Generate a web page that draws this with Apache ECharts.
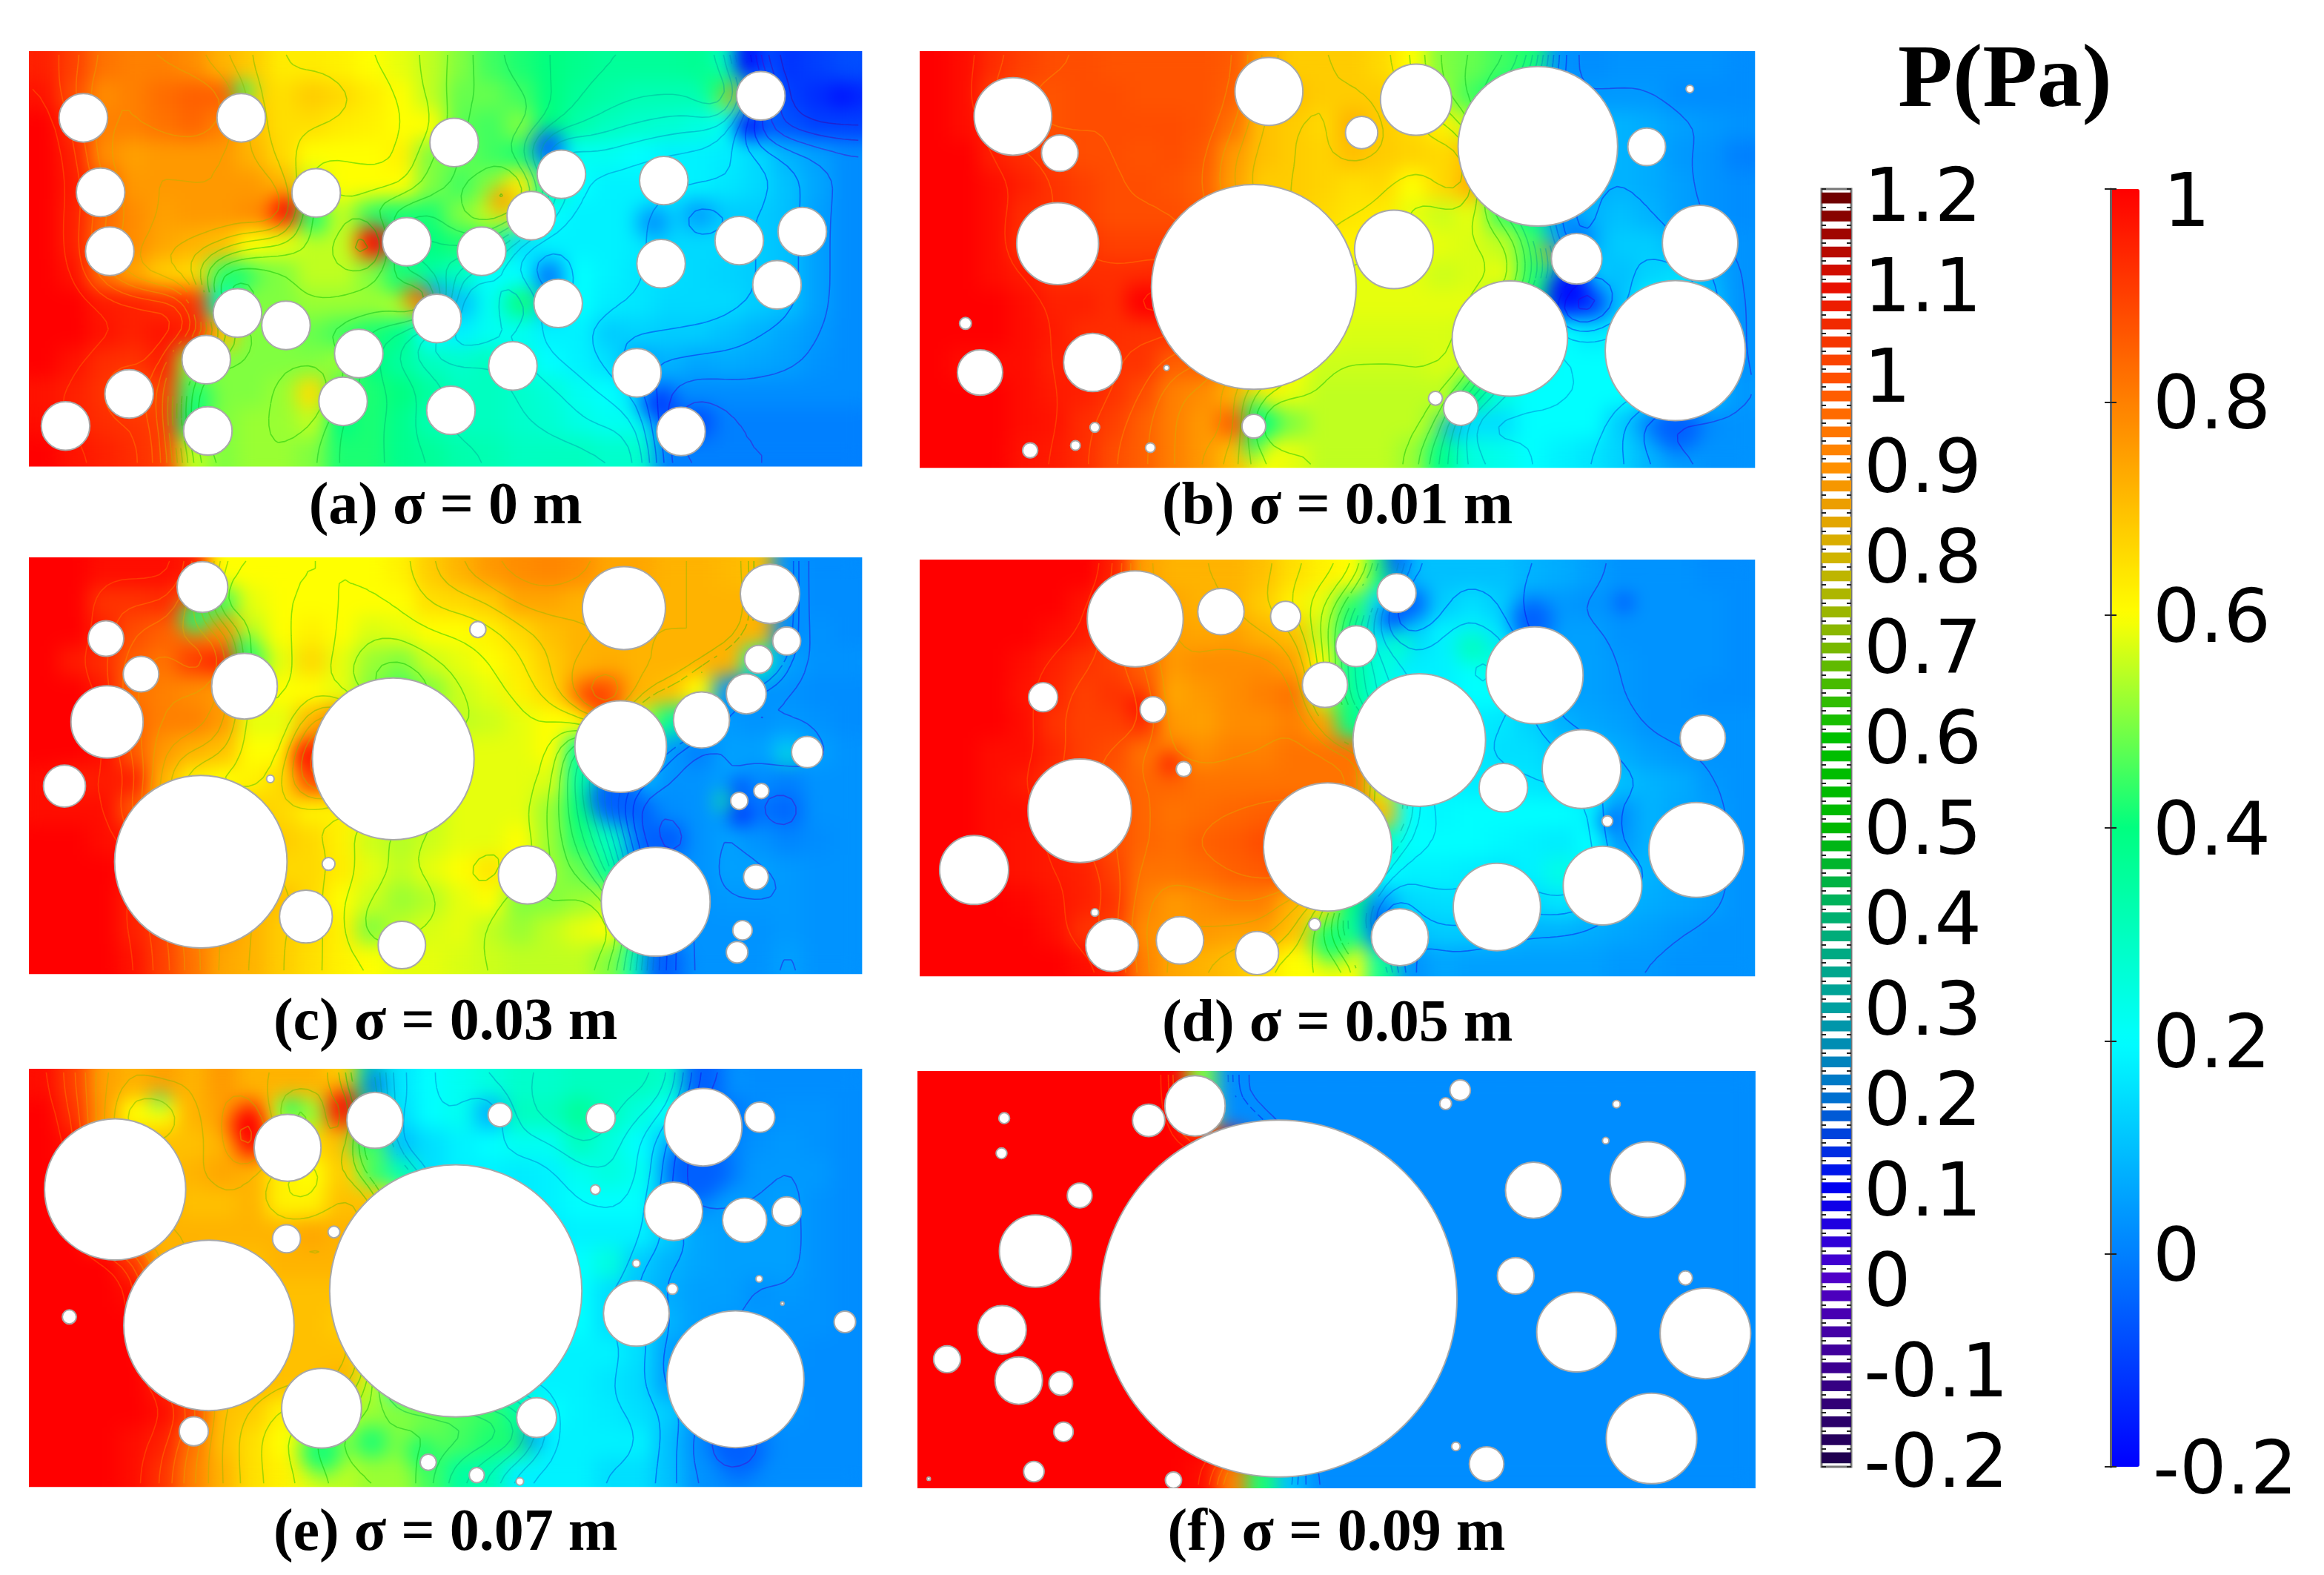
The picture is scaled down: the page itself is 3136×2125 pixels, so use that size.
<!DOCTYPE html>
<html><head><meta charset="utf-8">
<style>html,body{margin:0;background:#fff}#c{width:3136px;height:2125px}</style>
<script src="https://cdn.jsdelivr.net/npm/echarts@6/dist/echarts.min.js"></script>
</head><body>
<svg width="0" height="0" style="position:absolute"><filter id="soft" x="0" y="0" width="100%" height="100%" color-interpolation-filters="sRGB"><feGaussianBlur stdDeviation="13"/><feComponentTransfer><feFuncA type="linear" slope="30"/></feComponentTransfer></filter></svg>
<div id="c"></div>
<script>
// Pressure on a 28 x 14 sampling of each panel (Pa), top row first
const FIELD_A=[
[.95,.9,.82,.8,.8,.78,.72,.68,.63,.63,.62,.6,.58,.55,.5,.45,.42,.4,.38,.36,.36,.36,.37,.3,-.05,-.12,-.1,-.08],
[.97,.88,.78,.8,.83,.85,.85,.68,.65,.68,.66,.63,.6,.55,.48,.48,.45,.4,.36,.34,.32,.32,.32,.5,.1,-.1,-.13,-.13],
[1,.92,.8,.8,.82,.84,.8,.7,.65,.65,.63,.62,.6,.6,.47,.45,.5,.4,.33,.3,.28,.27,.25,.22,-.05,-.07,-.1,-.1],
[1,.95,.78,.75,.76,.76,.76,.72,.66,.6,.6,.6,.62,.5,.48,.45,.42,.1,.22,.22,.2,.18,.18,.17,.14,.08,.05,.02],
[1,.96,.85,.76,.76,.76,.76,.76,.72,.55,.6,.6,.6,.5,.45,.5,.62,.35,.2,.18,.18,.18,.18,.16,.14,.1,.06,.02],
[1,.95,.84,.78,.75,.76,.76,.78,.85,.45,.55,.45,.42,.42,.5,.55,.55,.2,.18,.18,.17,.14,.05,.12,.12,.1,.05,.02],
[1,.95,.82,.78,.74,.72,.7,.6,.58,.55,.55,.85,.35,.4,.42,.42,.15,.18,.18,.18,.17,.14,.14,.14,.12,.1,.05,.02],
[1,.97,.82,.74,.68,.66,.45,.48,.5,.55,.55,.5,.42,.35,.3,.2,.2,.05,.2,.18,.16,.15,.14,.13,.12,.1,.05,.02],
[1,1,.96,.95,.93,.92,.3,.5,.5,.52,.52,.52,.55,.75,.1,.22,.38,.1,.2,.17,.16,.14,.14,.14,.12,.1,.05,.02],
[1,1,.97,.95,.97,.95,.7,.5,.5,.48,.45,.42,.38,.2,.18,.22,.22,.18,.18,.12,.13,.12,.12,.1,.08,.06,.04,.02],
[1,.97,.93,.92,.95,.5,.5,.5,.5,.5,.52,.4,.35,.3,.28,.3,.25,.2,.18,.15,.05,.08,.06,.07,.06,.05,.03,.02],
[.97,.95,.92,.85,.9,.45,.5,.5,.52,.65,.45,.42,.4,.35,.3,.3,.28,.26,.22,.2,.15,.03,.02,.02,.02,.02,.02,.02],
[.98,.95,.93,.92,.9,.4,.5,.52,.52,.55,.4,.42,.38,.32,.3,.3,.28,.27,.24,.22,.22,-.02,-.08,0,0,0,0,0],
[1,.97,.95,.93,.9,.55,.5,.52,.52,.5,.42,.42,.38,.36,.33,.32,.3,.3,.3,.28,.28,0,0,0,0,0,0,0]];
const FIELD_B=[
[1,.98,.93,.9,.88,.88,.87,.87,.87,.87,.86,.75,.68,.68,.68,.66,.6,.5,.48,.45,.42,.03,.02,.03,.03,.03,.03,.02],
[1,.98,.9,.87,.87,.88,.88,.87,.87,.87,.85,.72,.7,.68,.68,.68,.63,.52,.45,.4,.2,.04,.04,.04,.04,.02,.02,.02],
[1,.98,.95,.88,.87,.88,.88,.88,.88,.87,.82,.7,.68,.66,.72,.68,.66,.62,.55,.3,.2,.1,.08,.08,.07,.05,.04,.03],
[1,1,.95,.93,.9,.88,.88,.87,.88,.86,.76,.7,.68,.67,.7,.68,.67,.66,.7,.3,.2,.1,.08,.08,.07,.04,.03,0],
[1,1,.98,.95,.92,.9,.88,.88,.87,.85,.75,.68,.68,.67,.65,.66,.6,.66,.72,.3,.2,.08,.07,.08,.07,.05,.03,.02],
[1,1,.98,.93,.92,.9,.88,.88,.88,.86,.8,.7,.68,.66,.64,.63,.58,.56,.58,.45,.38,.03,.08,.1,.08,.05,.03,.02],
[1,1,.98,.92,.92,.92,.9,.9,.9,.88,.8,.7,.68,.62,.62,.62,.6,.58,.57,.55,.45,.05,.08,.12,.12,.08,.05,.03],
[1,1,.98,.96,.93,.93,.93,.93,.95,.9,.85,.75,.65,.62,.58,.58,.58,.56,.57,.58,.45,.25,.12,.1,.13,.15,.08,.03],
[1,1,1,.98,.95,.95,.93,1,1,.9,.85,.75,.65,.6,.58,.58,.58,.58,.58,.5,.4,-.12,-.1,.1,.2,.18,.1,.03],
[1,1,1,.98,.96,.93,.93,.92,.92,.9,.85,.75,.62,.58,.57,.57,.57,.57,.56,.3,.25,.2,.17,.18,.2,.2,.1,.03],
[1,.98,.98,.98,.95,.96,.92,.92,.85,.85,.78,.7,.6,.56,.56,.56,.56,.57,.56,.25,.22,.2,.2,.2,.2,.2,.1,.03],
[1,1,1,.98,.96,.95,.92,.88,.8,.78,.72,.62,.58,.55,.55,.55,.55,.55,.4,.25,.2,.2,.2,.2,.18,.15,.1,.04],
[1,1,1,.98,.97,.93,.9,.85,.8,.76,.85,.4,.5,.55,.55,.55,.55,.5,.15,.15,.2,.2,.2,.12,.02,0,.02,.03],
[1,1,1,.97,.96,.93,.88,.85,.8,.76,.7,.6,.58,.55,.55,.55,.52,.38,.25,.23,.2,.18,.16,.13,.08,.05,.03,.03]];
const FIELD_C=[
[1,1,.98,.98,.98,.96,.6,.6,.6,.6,.6,.6,.62,.68,.72,.76,.78,.79,.78,.74,.74,.72,.72,.71,.7,.03,.02,.02],
[1,1,.92,.92,.93,.85,.45,.58,.6,.6,.6,.6,.6,.65,.66,.68,.74,.74,.72,.72,.72,.72,.72,.72,.72,.03,.02,.02],
[1,1,.95,.88,.85,.82,.78,.55,.6,.62,.6,.57,.58,.6,.6,.62,.66,.7,.72,.72,.72,.72,.72,.72,.72,.02,.03,.02],
[1,.96,.93,.85,.82,.9,.9,.45,.58,.66,.58,.52,.5,.56,.58,.6,.63,.68,.72,.73,.72,.72,.72,.72,.3,.05,.03,.03],
[1,1,.96,.82,.8,.78,.76,.62,.6,.6,.58,.5,.45,.5,.56,.58,.62,.66,.78,.85,.72,.7,.6,.03,.03,.03,.02,.02],
[1,1,.98,.84,.8,.8,.76,.58,.58,.72,.82,.6,.55,.55,.55,.56,.58,.6,.6,.85,.55,.35,.1,.04,.03,.04,.03,.02],
[1,1,.98,.86,.76,.72,.7,.6,.6,.85,.95,.58,.55,.55,.58,.58,.58,.6,.35,.28,.25,.04,0,.05,.05,.1,.05,.03],
[.98,.95,.96,.95,.72,.62,.6,.62,.66,.88,.85,.6,.55,.55,.58,.58,.58,.57,.35,.2,.1,.03,.03,.05,.02,0,.03,.03],
[.98,.98,.98,.86,.7,.7,.68,.68,.66,.62,.62,.6,.56,.55,.58,.58,.58,.52,.4,.22,-.05,.02,.03,.05,-.02,-.04,.03,.03],
[1,1,.98,.96,.8,.75,.7,.7,.68,.66,.62,.56,.54,.56,.58,.58,.6,.52,.42,.3,.05,-.08,.03,.05,.03,.01,.02,.03],
[1,1,1,.98,.9,.78,.72,.7,.66,.66,.63,.58,.55,.58,.6,.64,.6,.52,.48,.35,.05,.03,.03,.05,.05,.04,.03,.03],
[1,1,1,.95,.88,.78,.74,.72,.7,.66,.6,.56,.52,.54,.58,.6,.5,.5,.52,.54,.08,.04,.03,.04,.04,.04,.03,.03],
[1,1,1,.95,.9,.8,.76,.72,.68,.66,.62,.5,.55,.57,.58,.55,.52,.55,.58,.6,.4,.05,.03,.03,.03,.04,.03,.03],
[1,1,1,.97,.9,.82,.74,.72,.68,.65,.62,.6,.58,.58,.57,.56,.55,.55,.55,.5,.3,.06,.03,.03,.03,.05,.03,.03]];
const FIELD_D=[
[1,1,1,1,1,1,.95,.75,.72,.72,.72,.7,.65,.62,.6,.42,.1,.1,.1,.1,.08,.07,.05,.03,.03,.03,.02,.02],
[1,1,1,1,1,.97,.9,.78,.74,.72,.72,.68,.62,.58,.45,.15,-.05,.12,.15,.12,.05,.04,.03,.03,.03,.03,.03,.02],
[1,1,1,1,.98,.96,.9,.8,.75,.74,.75,.72,.7,.55,.35,.15,.12,.18,.18,.16,.05,.05,.05,.03,.03,.03,.03,.02],
[1,1,1,.98,.95,.92,.9,.85,.76,.78,.78,.78,.75,.6,.35,.25,.17,.18,.2,.25,.1,.05,.05,.04,.03,.03,.03,.02],
[1,1,1,.97,.94,.9,.92,.88,.74,.76,.78,.8,.82,.55,.35,.25,.2,.18,.2,.2,.1,.05,.05,.04,.03,.03,.02,.02],
[1,1,1,.98,.92,.9,.9,.92,.76,.75,.78,.78,.8,.75,.38,.3,.2,.17,.17,.16,.13,.08,.06,.05,.03,.03,.03,.03],
[1,1,.98,.98,.94,.9,.88,.82,.8,.78,.8,.8,.82,.82,.82,.8,.2,.18,.17,.15,.15,.12,.1,.07,.05,.04,.03,.03],
[1,1,.98,.96,.92,.88,.86,.84,.84,.82,.82,.82,.82,.82,.82,.55,.2,.18,.17,.17,.16,.15,.14,.1,.08,.07,.04,.03],
[1,1,.98,.98,.95,.92,.88,.84,.82,.83,.84,.85,.86,.85,.82,.7,.2,.19,.2,.2,.2,.2,.18,.03,.08,.06,.05,.03],
[1,1,.98,.97,.96,.92,.88,.84,.83,.85,.86,.88,.88,.85,.85,.3,.2,.2,.2,.19,.18,.17,.2,.04,.08,.08,.05,.03],
[1,1,.98,.97,.96,.95,.9,.82,.82,.83,.85,.86,.9,.85,.55,.2,.18,.18,.17,.16,.18,.24,.18,.1,.08,.06,.05,.03],
[1,1,1,.99,.97,.95,.92,.8,.76,.78,.8,.8,.72,.65,.4,.06,.14,.15,.15,.14,.14,.16,.12,.08,.07,.06,.05,.03],
[1,1,1,1,.98,.92,.9,.78,.76,.76,.75,.75,.7,.55,.35,-.05,.1,.12,.12,.1,.08,.08,.07,.06,.05,.04,.03,.03],
[1,1,1,1,1,.98,.95,.8,.74,.72,.7,.65,.6,.6,.6,.3,.03,.06,.05,.05,.05,.05,.05,.04,.04,.03,.03,.03]];
const FIELD_E=[
[.98,.9,.75,.72,.75,.72,.76,.72,.72,.72,.68,.35,.16,.2,.22,.25,.28,.28,.3,.3,.3,.28,.05,.03,.02,.02,.02,.02],
[1,.92,.76,.6,.6,.72,.75,.85,.6,.52,.9,.42,.15,.2,.22,.08,.3,.3,.36,.3,.25,.2,0,-.02,.02,.03,.03,.02],
[1,.97,.72,.7,.7,.7,.72,.95,.68,.66,.7,.45,.1,.15,.18,.2,.22,.22,.3,.25,.2,.1,0,0,.03,.04,.03,.02],
[1,.98,.72,.7,.7,.72,.74,.72,.62,.6,.68,.55,.32,.15,.18,.18,.17,.18,.22,.25,.22,.1,-.02,0,.04,.04,.04,.02],
[1,.98,.72,.72,.72,.7,.7,.72,.62,.62,.7,.7,.6,.15,.15,.17,.17,.18,.2,.2,.2,.05,.03,.05,.04,.05,.03,.02],
[1,1,.8,.72,.72,.72,.72,.72,.72,.74,.72,.72,.18,.15,.17,.18,.18,.17,.18,.18,.18,.12,.06,.05,.05,.05,.03,.02],
[1,1,1,.92,.72,.72,.7,.7,.72,.72,.72,.7,.18,.17,.17,.18,.18,.18,.2,.25,.12,.08,.06,.05,.05,.05,.03,.02],
[1,1,1,.98,.72,.72,.7,.7,.7,.7,.7,.68,.18,.17,.17,.17,.17,.18,.2,.15,.1,.07,.05,.05,.03,.04,.03,.02],
[1,1,1,1,.72,.72,.7,.7,.7,.7,.68,.65,.18,.17,.17,.17,.17,.18,.2,.15,.15,.08,.05,.04,.04,.03,.03,.02],
[1,1,1,1,.8,.72,.7,.7,.7,.7,.7,.68,.2,.18,.17,.17,.17,.18,.18,.18,.15,.05,.03,.03,.03,.03,.02,.02],
[1,1,1,1,.95,.8,.72,.72,.7,.7,.72,.55,.22,.18,.18,.18,.18,.18,.18,.16,.14,.05,.03,.03,.03,.02,.02,.02],
[1,1,1,1,.98,.9,.7,.68,.62,.6,.55,.52,.5,.48,.46,.44,.35,.2,.18,.17,.15,.12,.04,.04,.03,.03,.02,.02],
[1,1,1,.98,.95,.82,.7,.65,.6,.55,.52,.42,.5,.48,.45,.42,.42,.18,.18,.18,.18,.1,.02,-.1,0,.02,.02,.02],
[1,1,1,.98,.92,.8,.72,.65,.62,.58,.55,.52,.52,.45,.35,.32,.18,.18,.18,.15,.15,.1,.03,.02,.02,.02,.02,.02]];
const FIELD_F=[
[1,1,1,1,1,1,1,1,1,.5,.02,.02,.02,.02,.02,.02,.02,.02,.02,.02,.02,.02,.02,.02,.02,.02,.02,.02],
[1,1,1,1,1,1,1,1,1,.6,.02,.02,.02,.02,.02,.02,.02,.02,.02,.02,.02,.02,.02,.02,.02,.02,.02,.02],
[1,1,1,1,1,1,1,1,1,1,1,.02,.02,.02,.02,.02,.02,.02,.02,.02,.02,.02,.02,.02,.02,.02,.02,.02],
[1,1,1,1,1,1,1,1,1,1,1,1,.02,.02,.02,.02,.02,.02,.02,.02,.02,.02,.02,.02,.02,.02,.02,.02],
[1,1,1,1,1,1,1,1,1,1,1,1,.02,.02,.02,.02,.02,.02,.02,.02,.02,.02,.02,.02,.02,.02,.02,.02],
[1,1,1,1,1,1,1,1,1,1,1,1,.02,.02,.02,.02,.02,.02,.02,.02,.02,.02,.02,.02,.02,.02,.02,.02],
[1,1,1,1,1,1,1,1,1,1,1,1,.02,.02,.02,.02,.02,.02,.02,.02,.02,.02,.02,.02,.02,.02,.02,.02],
[1,1,1,1,1,1,1,1,1,1,1,1,.02,.02,.02,.02,.02,.02,.02,.02,.02,.02,.02,.02,.02,.02,.02,.02],
[1,1,1,1,1,1,1,1,1,1,1,1,.02,.02,.02,.02,.02,.02,.02,.02,.02,.02,.02,.02,.02,.02,.02,.02],
[1,1,1,1,1,1,1,1,1,1,1,1,.02,.02,.02,.02,.02,.02,.02,.02,.02,.02,.02,.02,.02,.02,.02,.02],
[1,1,1,1,1,1,1,1,1,1,1,1,.02,.02,.02,.02,.02,.02,.02,.02,.02,.02,.02,.02,.02,.02,.02,.02],
[1,1,1,1,1,1,1,1,1,1,1,1,.02,.02,.02,.02,.02,.02,.02,.02,.02,.02,.02,.02,.02,.02,.02,.02],
[1,1,1,1,1,1,1,1,1,1,1,1,.02,.02,.02,.02,.02,.02,.02,.02,.02,.02,.02,.02,.02,.02,.02,.02],
[1,1,1,1,1,1,1,1,1,.98,.8,.42,.1,.02,.02,.02,.02,.02,.02,.02,.02,.02,.02,.02,.02,.02,.02,.02]];

// Solid grains: [x, y, radius] in each panel's field units
const CIRCLES_A=[[113,268,45],[406,268,45],[801,358,45],[145,540,45],[545,542,45],[1000,474,45],[1190,497,45],[1370,188,45],[162,755,45],[713,720,45],[852,755,45],[944,625,45],[1330,716,45],[1447,683,45],[1185,800,45],[1400,877,45],[399,980,45],[489,1025,45],[769,1000,45],[994,945,45],[341,1150,45],[624,1128,45],[910,1173,45],[1140,1198,45],[198,1275,45],[595,1302,45],[795,1335,45],[80,1392,45],[344,1410,45],[1222,1412,45]];
const CIRCLES_B=[[188,263,72],[275,397,34],[663,172,63],[936,202,66],[835,322,30],[1162,372,148],[1364,374,35],[1444,163,7],[271,727,76],[635,885,190],[895,748,73],[1234,782,47],[1463,725,70],[1110,1073,107],[1417,1117,130],[100,1018,11],[127,1197,42],[336,1160,54],[473,1180,5],[972,1291,13],[1019,1327,32],[635,1393,22],[340,1397,9],[220,1481,14],[304,1463,9],[443,1471,9]];
const CIRCLES_C=[[334,128,47],[155,316,33],[220,446,33],[157,620,67],[412,490,61],[78,854,39],[331,1130,160],[688,755,150],[845,283,15],[1116,205,77],[1387,153,55],[1418,325,26],[1366,392,26],[1343,518,37],[1260,613,52],[1110,710,85],[1456,730,29],[1371,872,14],[1330,908,16],[460,828,7],[568,1138,12],[937,1178,54],[1175,1276,101],[526,1330,49],[704,1434,44],[1361,1186,23],[1336,1380,18],[1326,1460,20]];
const CIRCLES_D=[[415,244,89],[574,218,43],[694,235,28],[900,150,36],[825,344,38],[767,485,42],[244,530,27],[448,575,24],[505,792,14],[942,686,123],[1156,450,90],[1468,678,42],[1098,860,45],[1243,792,73],[312,944,96],[772,1076,119],[1291,982,10],[1456,1087,88],[116,1160,64],[1282,1217,73],[1086,1295,81],[340,1315,7],[372,1434,49],[498,1417,44],[641,1463,40],[748,1358,11],[906,1405,53]];
const CIRCLES_E=[[172,460,131],[492,308,62],[654,208,52],[886,188,22],[1073,200,27],[1263,233,72],[1368,197,28],[1208,540,54],[1340,572,41],[1418,540,27],[1063,461,9],[346,956,158],[804,830,234],[490,640,26],[578,615,11],[87,925,13],[555,1258,74],[318,1342,27],[954,1292,37],[1139,912,61],[1206,823,10],[1139,730,7],[1367,786,6],[1323,1152,127],[1526,943,20],[753,1455,15],[843,1502,14],[923,1525,7],[1410,876,3]];
const CIRCLES_F=[[525,155,56],[439,208,30],[680,858,331],[171,200,10],[166,328,10],[311,482,23],[229,685,67],[167,972,45],[65,1079,25],[198,1157,44],[276,1167,22],[281,1344,18],[226,1489,19],[485,1520,15],[31,1515,3],[1017,98,19],[990,147,11],[1307,149,7],[1287,282,6],[1365,424,70],[1153,463,52],[1120,775,34],[1435,783,13],[1233,980,74],[1472,985,84],[1372,1368,84],[1066,1461,32],[1009,1397,8]];

// Local pressure extremes beside the grains: [x, y, pressure, radius]
const SPOTS_A=[[655,720,1,30],[490,600,1,25],[1315,178,.85,16],[1290,150,.42,24],[1345,70,-.2,26],[1345,300,-.2,24],[1520,190,-.18,22],[680,620,.42,30],[700,860,.42,30],[400,850,.42,28],[410,170,.42,20],[545,650,.42,22],[940,930,.42,20],[330,1290,.42,25],[975,370,-.05,30],[975,850,-.02,25],[1180,1310,-.1,35],[1170,650,.03,30],[770,900,.05,20],[730,920,.85,22],[890,570,.75,25]];
const SPOTS_B=[[425,930,1,30],[1220,890,-.18,40],[635,1330,.42,22],[635,1460,.42,22],[1185,770,.8,16],[1160,820,.42,22],[1240,700,-.05,20],[1420,1400,-.05,45],[1000,1400,.05,20]];
const SPOTS_C=[[320,240,.42,28],[410,350,.42,22],[360,400,.95,22],[525,745,.98,28],[1060,530,.9,30],[1100,900,-.05,50],[1170,1060,-.05,40],[1300,910,.42,14],[1330,960,-.18,18],[1330,860,-.18,14],[1190,1490,-.05,40],[1420,750,.35,12],[1190,610,.42,14]];
const SPOTS_D=[[900,60,-.05,22],[890,240,-.12,22],[810,230,.42,25],[1150,250,-.05,40],[800,570,.42,20],[420,560,1,18],[480,770,1,18],[1040,350,.3,30],[905,340,.28,25],[1322,185,-.18,12],[780,1420,.42,40],[860,1320,-.05,20],[880,1510,.42,18],[1290,985,-.15,14]];
const SPOTS_E=[[255,135,.32,14],[420,230,1,35],[595,150,.98,30],[495,165,.42,22],[650,85,-.05,25],[625,90,.42,15],[625,300,.4,18],[650,400,.42,22],[1250,390,-.05,60],[1262,70,-.05,40],[1330,1420,-.05,45],[555,1420,.42,40],[740,1420,.42,30],[945,1370,.02,20]];
const SPOTS_F=[];

const CAPTIONS=['(a) σ = 0 m','(b) σ = 0.01 m','(c) σ = 0.03 m','(d) σ = 0.05 m','(e) σ = 0.07 m','(f) σ = 0.09 m'];
const TITLE='P(Pa)';
const SURFACE_COLORS=['#0000ff','#0080ff','#00ffff','#00ff80','#ffff00','#ff8000','#ff0000'];
const CONTOUR_COLORS=['#200050','#3c0090','#5000c8','#0000f0','#0070d0','#00a0a0','#00b070','#00b800','#00c000','#78b800','#d0b400','#ff9000','#ff5000','#e81000','#700000'];
const CONTOUR_LEVELS=[1.2,1.18,1.16,1.14,1.12,1.1,1.08,1.06,1.04,1.02,1,.98,.96,.94,.92,.9,.88,.86,.84,.82,.8,.78,.76,.74,.72,.7,.68,.66,.64,.62,.6,.58,.56,.54,.52,.5,.48,.46,.44,.42,.4,.38,.36,.34,.32,.3,.28,.26,.24,.22,.2,.18,.16,.14,.12,.1,.08,.06,.04,.02,0,-.02,-.04,-.06,-.08,-.1,-.12,-.14,-.16,-.18,-.2];

const FIELDS=[FIELD_A,FIELD_B,FIELD_C,FIELD_D,FIELD_E,FIELD_F];
const CIRCLES=[CIRCLES_A,CIRCLES_B,CIRCLES_C,CIRCLES_D,CIRCLES_E,CIRCLES_F];
const SPOTS=[SPOTS_A,SPOTS_B,SPOTS_C,SPOTS_D,SPOTS_E,SPOTS_F];

// Layout
const SX=1.375,SY=2.703;
const FRAMES=[
 {left:39,top:69,x0:12,x1:1558,y0:25,y1:1540,gap:56},
 {left:1241,top:69,x0:15,x1:1565,y0:25,y1:1545,gap:54},
 {left:39,top:752,x0:12,x1:1558,y0:20,y1:1540,gap:67},
 {left:1241,top:755,x0:15,x1:1565,y0:28,y1:1548,gap:66},
 {left:39,top:1442,x0:12,x1:1558,y0:20,y1:1545,gap:64},
 {left:1238,top:1445,x0:10,x1:1565,y0:28,y1:1550,gap:62}];
const serif='"Liberation Serif","Times New Roman",serif', sans='"DejaVu Sans",sans-serif';

const grid=[],xAxis=[],yAxis=[],series=[],heatSeries=[];
const idx=n=>Array.from({length:n},(_,i)=>i);

// Contours are traced on a softened copy of the sampled field so that they follow the drawn surface
const K=4;
function softField(f){
  const R=f.length*K,C=f[0].length*K;
  let g=idx(R).map(j=>idx(C).map(i=>f[Math.floor(j/K)][Math.floor(i/K)]));
  const box=(a,n,get)=>{const out=new Array(n);for(let i=0;i<n;i++){let s=0;for(let o=-2;o<=2;o++)s+=get(a,Math.min(n-1,Math.max(0,i+o)));out[i]=s/5;}return out;};
  for(let pass=0;pass<3;pass++){
    g=g.map(row=>box(row,C,(a,i)=>a[i]));
    const cols=idx(C).map(i=>box(g,R,(a,j)=>a[j][i]));
    g=idx(R).map(j=>idx(C).map(i=>cols[i][j]));
  }
  return g;
}
function contourPath(f,fr,level,api){
  const R=f.length,C=f[0].length,dx=(fr.x1-fr.x0)/C,dy=(fr.y1-fr.y0)/R;
  const pt=(i,j)=>api.coord([fr.x0+(i+.5)*dx,fr.y0+(j+.5)*dy]);
  let d='';
  for(let j=0;j<R-1;j++)for(let i=0;i<C-1;i++){
    const v=[f[j][i],f[j][i+1],f[j+1][i+1],f[j+1][i]];
    if(Math.max(...v)-Math.min(...v)>.07)continue;
    const c=[[i,j],[i+1,j],[i+1,j+1],[i,j+1]],p=[];
    for(let k=0;k<4;k++){const a=v[k],b=v[(k+1)%4];
      if((a<level)!==(b<level)){const t=(level-a)/(b-a),m=c[k],n=c[(k+1)%4];p.push(pt(m[0]+(n[0]-m[0])*t,m[1]+(n[1]-m[1])*t));}}
    for(let k=0;k+1<p.length;k+=2)d+='M'+p[k][0].toFixed(1)+' '+p[k][1].toFixed(1)+'L'+p[k+1][0].toFixed(1)+' '+p[k+1][1].toFixed(1);
  }
  return d;
}

FRAMES.forEach((fr,p)=>{
  const f=FIELDS[p],w=(fr.x1-fr.x0)/SX,h=(fr.y1-fr.y0)/SY,soft=softField(f);
  grid.push({left:fr.left,top:fr.top,width:w,height:h,show:false,containLabel:false});
  const xc=xAxis.length,yc=yAxis.length;
  xAxis.push({gridIndex:p,type:'category',data:idx(f[0].length),show:false,zlevel:1});
  yAxis.push({gridIndex:p,type:'category',data:idx(f.length),inverse:true,show:false,zlevel:1});
  xAxis.push({gridIndex:p,type:'value',min:fr.x0,max:fr.x1,position:'bottom',zlevel:1,
    axisLine:{show:false},axisTick:{show:false},axisLabel:{show:false},splitLine:{show:false},
    name:CAPTIONS[p],nameLocation:'middle',nameGap:fr.gap,
    nameTextStyle:{fontFamily:serif,fontWeight:'bold',fontSize:80,color:'#000',verticalAlign:'middle'}});
  yAxis.push({gridIndex:p,type:'value',min:fr.y0,max:fr.y1,inverse:true,show:false,zlevel:1});
  heatSeries.push(series.length);
  series.push({type:'heatmap',xAxisIndex:xc,yAxisIndex:yc,zlevel:0,progressive:0,silent:true,
    data:f.flatMap((row,j)=>row.map((v,i)=>[i,j,v]))});
  if(SPOTS[p].length){heatSeries.push(series.length);
  series.push({type:'custom',xAxisIndex:xc+1,yAxisIndex:yc+1,zlevel:0,z:3,silent:true,clip:true,
    data:SPOTS[p],encode:{x:0,y:1},
    renderItem:(params,api)=>{const c=api.coord([api.value(0),api.value(1)]),r=api.size([api.value(3),0])[0];
      return {type:'circle',shape:{cx:c[0],cy:c[1],r:r},style:{fill:api.visual('color')}};}});}
  series.push({type:'custom',xAxisIndex:xc+1,yAxisIndex:yc+1,zlevel:1,z:2,silent:true,clip:true,
    data:[[fr.x0,fr.y0]],encode:{x:0,y:1},
    renderItem:(params,api)=>({type:'group',children:CONTOUR_LEVELS.filter((l,i)=>i%2===0&&l>-.2&&l<1).map(l=>({
      type:'path',shape:{pathData:contourPath(soft,fr,l,api)||'M0 0'},
      style:{fill:'none',stroke:echarts.color.lerp((l+.2)/1.4,CONTOUR_COLORS),lineWidth:1.6,opacity:.45}}))})});
  series.push({type:'custom',xAxisIndex:xc+1,yAxisIndex:yc+1,zlevel:1,z:4,silent:true,clip:true,
    data:CIRCLES[p],encode:{x:0,y:1},
    renderItem:(params,api)=>{const c=api.coord([api.value(0),api.value(1)]),r=api.size([api.value(2),0])[0];
      return {type:'circle',shape:{cx:c[0],cy:c[1],r:r},style:{fill:'#fff',stroke:'#a8a8a8',lineWidth:2}};}});
});

// Contour colour legend: striped bar + its labels
const G=grid.length;
grid.push({left:2458,top:255,width:40,height:1724,show:true,backgroundColor:'#fff',borderColor:'#777',borderWidth:3,z:1,zlevel:1});
xAxis.push({gridIndex:G,type:'value',min:0,max:1,show:false,zlevel:1});
const stripeAxis={gridIndex:G,type:'category',data:CONTOUR_LEVELS,inverse:true,zlevel:1,z:6,
  axisLine:{show:false},axisLabel:{show:false},axisTick:{show:true,inside:true,length:6,lineStyle:{color:'#222',width:2}}};
yAxis.push(Object.assign({},stripeAxis,{position:'left'}));
yAxis.push(Object.assign({},stripeAxis,{position:'right'}));
const contourBar=series.length;
series.push({type:'bar',xAxisIndex:xAxis.length-1,yAxisIndex:yAxis.length-2,zlevel:1,silent:true,barWidth:'60%',
  data:CONTOUR_LEVELS.map((l,i)=>[1,i,l]),encode:{x:0,y:1}});
series.push({type:'custom',xAxisIndex:xAxis.length-1,yAxisIndex:yAxis.length-1,zlevel:1,silent:true,data:[],renderItem:()=>null});
grid.push({left:2458,top:272,width:40,height:1708,show:false,zlevel:1});
xAxis.push({gridIndex:G+1,type:'value',show:false,min:0,max:1,zlevel:1});
yAxis.push({gridIndex:G+1,type:'value',min:-.2,max:1.2,interval:.1,position:'right',zlevel:1,
  axisLine:{show:false},axisTick:{show:false},splitLine:{show:false},
  axisLabel:{margin:17,fontFamily:sans,fontSize:100,color:'#000',formatter:v=>String(+v.toFixed(1))}});
series.push({type:'custom',xAxisIndex:xAxis.length-1,yAxisIndex:yAxis.length-1,zlevel:1,silent:true,data:[],renderItem:()=>null});

// Surface colour legend axis (the bar itself is the visualMap)
grid.push({left:2848,top:255,width:39,height:1724,show:false,zlevel:1});
xAxis.push({gridIndex:G+2,type:'value',show:false,min:0,max:1,zlevel:1});
const barAxis={gridIndex:G+2,type:'value',min:-.2,max:1,interval:.2,zlevel:1,z:6,
  axisLine:{show:true,lineStyle:{color:'#666',width:3}},axisTick:{show:true,inside:true,length:8,lineStyle:{color:'#222',width:2}},splitLine:{show:false}};
yAxis.push(Object.assign({},barAxis,{position:'right',
  axisLabel:{margin:18,padding:[20,0,0,0],fontFamily:sans,fontSize:100,color:'#000',formatter:v=>{const s=String(+v.toFixed(1));return s==='1'?'{one|1}':s;},
    rich:{one:{fontFamily:sans,fontSize:100,color:'#000',padding:[28,0,0,14]}}}}));
yAxis.push(Object.assign({},barAxis,{position:'left',axisLabel:{show:false}}));
series.push({type:'custom',xAxisIndex:xAxis.length-1,yAxisIndex:yAxis.length-2,zlevel:1,silent:true,data:[],renderItem:()=>null});
series.push({type:'custom',xAxisIndex:xAxis.length-1,yAxisIndex:yAxis.length-1,zlevel:1,silent:true,data:[],renderItem:()=>null});

const chart=echarts.init(document.getElementById('c'),null,{renderer:'canvas',devicePixelRatio:1,width:3136,height:2125});
chart.setOption({animation:false,
  title:{text:TITLE,left:2556,top:46,zlevel:1,textStyle:{fontFamily:serif,fontWeight:'bold',fontSize:121,color:'#000'}},
  grid,xAxis,yAxis,series,
  visualMap:[
   {type:'continuous',min:-.2,max:1,dimension:2,seriesIndex:heatSeries,inRange:{color:SURFACE_COLORS},
    show:true,left:2848,top:255,itemWidth:39,itemHeight:1724,showLabel:false,calculable:false,realtime:false,hoverLink:false,padding:0,text:null,zlevel:1},
   {type:'continuous',min:-.2,max:1.2,dimension:2,seriesIndex:[contourBar],inRange:{color:CONTOUR_COLORS},show:false}
  ]});
// Smooth the sampled field: only the field layer is softened, and kept inside the panel frames
const layer=chart.getZr().painter.getLayer(0).dom;
layer.style.filter='url(#soft)';
layer.style.clipPath="path('"+FRAMES.map(fr=>{const w=(fr.x1-fr.x0)/SX,h=(fr.y1-fr.y0)/SY;return `M${fr.left} ${fr.top}h${w}v${h}h${-w}Z`;}).join('')+"')";
</script>
</body></html>
